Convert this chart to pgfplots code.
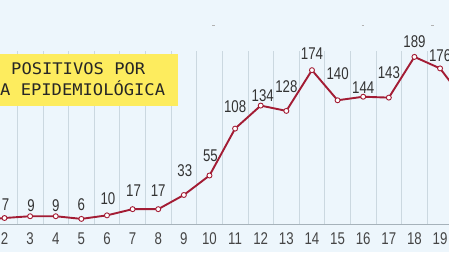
\documentclass[border=0pt]{standalone}
\usepackage{pgfplots}
\pgfplotsset{compat=1.18}
\usepackage{pgfplotstable}
\usepackage{fontspec}
\setmainfont{Liberation Sans}
\newfontfamily\numfont[FakeStretch=0.78]{Liberation Sans}
\newfontfamily\boxfont[FakeStretch=1.07]{DejaVu Sans Mono}
\definecolor{bg}{HTML}{EDF6FC}
\definecolor{linered}{HTML}{A31C34}
\definecolor{gridc}{HTML}{CBD8E0}
\definecolor{axisc}{HTML}{A6B2BA}
\definecolor{boxy}{HTML}{FDEC5E}
\definecolor{txt}{HTML}{333333}
\definecolor{ticktxt}{HTML}{454545}

\pgfplotstableread{
x y dx dy
1 4 0 13
2 7 1 13
3 9 1 11
4 9 0 11
5 6 0 14
6 10 1 17
7 17 1 19
8 17 0 19
9 33 1 24
10 55 1 20
11 108 0 22
12 134 2 10
13 128 0 24
14 174 0 17
15 140 0 27
16 144 0 9
17 143 0 25
18 189 0 15
19 176 0 13
20 138 0 13
}\casos

\begin{document}
\begin{tikzpicture}[x=1pt,y=1pt]
\useasboundingbox (0,0) rectangle (449,252);
\fill[bg] (0,0) rectangle (449,252);
\begin{scope}
\clip (0,0) rectangle (449,252);
\begin{axis}[
  at={(-8.31pt,27.8pt)}, anchor=south west,
  scale only axis, width=486.8pt, height=173.5pt,
  xmin=1.5, xmax=20.5, ymin=0, ymax=196,
  axis x line*=bottom, axis y line=none,
  x axis line style={-, axisc, line width=0.8pt},
  xtick={1,...,20},
  minor xtick={1.5,2.5,...,20.5},
  xminorgrids=true,
  minor grid style={gridc, line width=0.7pt},
  major tick length=0pt, minor tick length=0pt,
  /pgf/number format/assume math mode=true,
  xticklabel style={font=\numfont\fontsize{17}{19}\selectfont, text=ticktxt, anchor=center, inner sep=0pt, yshift=-14.3pt},
  clip=false,
]
\addplot[linered, line width=1.9pt, mark=*, mark size=2.5pt,
  mark options={fill=white, draw=linered, line width=0.9pt},
  visualization depends on={\thisrow{dx} \as \ldx},
  visualization depends on={\thisrow{dy} \as \ldy},
  nodes near coords,
  nodes near coords style={font=\numfont\fontsize{17}{19}\selectfont, text=txt, anchor=center, inner sep=0pt, xshift=\ldx pt, yshift=\ldy pt},
] table[x=x, y=y] {\casos};
\end{axis}
\end{scope}
\draw[gray!60, line width=0.8pt] (212,227) -- (214.5,227);
\draw[gray!60, line width=0.8pt] (361.5,227) -- (364,227);
\draw[gray!60, line width=0.8pt] (431,227) -- (433.5,227);
\fill[boxy] (0,146) rectangle (178,198);
\node[anchor=base west, inner sep=0pt, text=black!85] at (11,177) {\boxfont\fontsize{16}{19}\selectfont POSITIVOS POR};
\node[anchor=base west, inner sep=0pt, text=black!85] at (0,156.3) {\boxfont\fontsize{16}{19}\selectfont A EPIDEMIOLÓGICA};
\end{tikzpicture}
\end{document}
